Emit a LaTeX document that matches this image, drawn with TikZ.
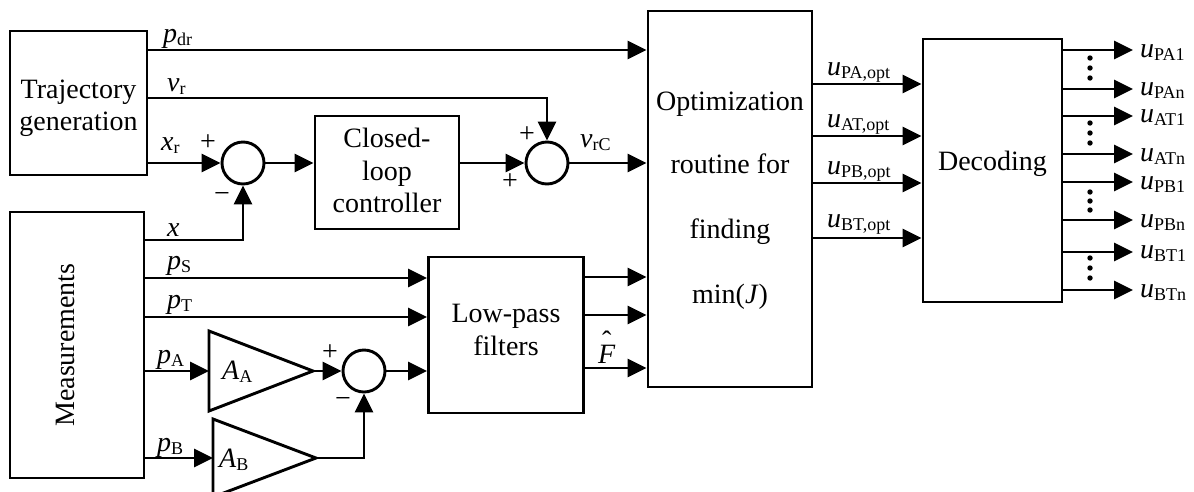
\documentclass[tikz,border=0pt]{standalone}
\usepackage{fontspec}
\setmainfont{Liberation Serif}
\usetikzlibrary{arrows.meta}
\newcommand{\vsub}[2]{\textit{#1}\raisebox{-0.14em}{\fontsize{18}{18}\selectfont #2}}
\begin{document}
\begin{tikzpicture}[x=1pt,y=-1pt,
 every node/.style={font=\fontsize{28}{33}\selectfont, inner sep=0pt},
 blk/.style={draw, line width=2.9pt},
 sumc/.style={draw, circle, line width=2.9pt, minimum size=42pt},
 sig/.style={line width=2.9pt, -{Triangle[length=19pt,width=18pt]}},
 wire/.style={line width=2.9pt, line join=miter},
 lbl/.style={anchor=base west},
 txt/.style={anchor=base},
 sgn/.style={font=\fontsize{28}{28}\selectfont}]
\useasboundingbox (0,0) rectangle (1194,491);
\clip (0,0) rectangle (1194,491);
\fill[white] (0,0) rectangle (1194,491);

% blocks
\node[blk, minimum width=137pt, minimum height=144pt] (traj) at (78.5,103) {};
\node[txt] (trajt1) at (78.5,98) {Trajectory};
\node[txt] (trajt2) at (78.5,130) {generation};

\node[blk, minimum width=134pt, minimum height=266pt] (meas) at (77,345) {};
\node[rotate=90] (meast) at (65,345) {Measurements};

\node[blk, minimum width=144pt, minimum height=113pt] (clc) at (387,172.5) {};
\node[txt] (clct1) at (387,147) {Closed-};
\node[txt] (clct2) at (387,180) {loop};
\node[txt] (clct3) at (387,212) {controller};

\node[blk, minimum width=155pt, minimum height=156pt] (lpf) at (506,335) {};
\node[txt] (lpft1) at (506,322) {Low-pass};
\node[txt] (lpft2) at (506,355) {filters};

\node[blk, minimum width=164pt, minimum height=376pt] (opt) at (730,199) {};
\node[txt] (optt1) at (730,110) {Optimization};
\node[txt] (optt2) at (730,173) {routine for};
\node[txt] (optt3) at (730,238) {finding};
\node[txt] (optt4) at (730,303) {min(\textit{J})};

\node[blk, minimum width=139pt, minimum height=263pt] (dec) at (992.5,170.5) {};
\node[txt] (dect) at (992.5,170) {Decoding};

% summing junctions
\node[sumc] (s1) at (243,163) {};
\node[sumc] (s2) at (547,163) {};
\node[sumc] (s3) at (364,371) {};

% amplifiers
\coordinate (AAin) at (209,371);
\coordinate (AAout) at (313,371);
\coordinate (ABin) at (213,458);
\coordinate (ABout) at (316,458);
\draw[wire] (209,331) -- (AAout) -- (209,411) -- cycle;
\draw[wire] (213,419) -- (ABout) -- (213,497) -- cycle;

% connectors
\draw[sig] (traj.east |- 0,50) -- (opt.west |- 0,50);
\draw[sig] (traj.east |- 0,98) -| (s2.north);
\draw[sig] (traj.east |- s1) -- (s1.west);
\draw[sig] (s1.east) -- (clc.west |- s1);
\draw[sig] (clc.east |- s2) -- (s2.west);
\draw[sig] (s2.east) -- (opt.west |- s2);
\draw[sig] (meas.east |- 0,240) -| (s1.south);
\draw[sig] (meas.east |- 0,278) -- (lpf.west |- 0,278);
\draw[sig] (meas.east |- 0,317) -- (lpf.west |- 0,317);
\draw[sig] (meas.east |- AAin) -- (AAin);
\draw[sig] (AAout) -- (s3.west);
\draw[sig] (meas.east |- ABin) -- (ABin);
\draw[sig] (ABout) -| (s3.south);
\draw[sig] (s3.east) -- (lpf.west |- s3);
\draw[sig] (lpf.east |- 0,277) -- (opt.west |- 0,277);
\draw[sig] (lpf.east |- 0,315) -- (opt.west |- 0,315);
\draw[sig] (lpf.east |- 0,368) -- (opt.west |- 0,368);
\draw[sig] (opt.east |- 0,84) -- (dec.west |- 0,84);
\draw[sig] (opt.east |- 0,136) -- (dec.west |- 0,136);
\draw[sig] (opt.east |- 0,183) -- (dec.west |- 0,183);
\draw[sig] (opt.east |- 0,238) -- (dec.west |- 0,238);

\foreach \n/\yy in {1/50,2/89,3/116,4/154,5/182,6/220,7/252,8/290}{
  \coordinate (o\n) at (1133,\yy);
  \draw[sig] (dec.east |- o\n) -- (o\n);
}
\foreach \yy in {58,68,78,123,133,143,192,201,210,258,268,278}{
  \fill (1090,\yy) circle (2.7pt);
}

% labels
\node[lbl] (lpdr) at (163,42) {\vsub{p}{dr}};
\node[lbl] (lvr) at (167,91) {\vsub{v}{r}};
\node[lbl] (lxr) at (161,150) {\vsub{x}{r}};
\node[lbl] (lx) at (167,236) {\textit{x}};
\node[lbl] (lps) at (167,269) {\vsub{p}{S}};
\node[lbl] (lpt) at (167,308) {\vsub{p}{T}};
\node[lbl] (lpa) at (157,363) {\vsub{p}{A}};
\node[lbl] (lpb) at (157,451) {\vsub{p}{B}};
\node[lbl] (laa) at (222,379) {\vsub{A}{A}};
\node[lbl] (lab) at (219,467) {\vsub{A}{B}};
\node[lbl] (lvrc) at (580,147) {\vsub{v}{rC}};
\node[lbl] (lf) at (598,363) {\makebox[0pt][l]{\hspace{4pt}\raisebox{13pt}{ˆ}}\textit{F}};
\node[lbl] (lupa) at (827,75) {\vsub{u}{PA,opt}};
\node[lbl] (luat) at (827,127) {\vsub{u}{AT,opt}};
\node[lbl] (lupb) at (827,174) {\vsub{u}{PB,opt}};
\node[lbl] (lubt) at (827,227) {\vsub{u}{BT,opt}};
\node[lbl] (lo1) at (1140,57) {\vsub{u}{PA1}};
\node[lbl] (lo2) at (1140,95) {\vsub{u}{PAn}};
\node[lbl] (lo3) at (1140,122) {\vsub{u}{AT1}};
\node[lbl] (lo4) at (1140,161) {\vsub{u}{ATn}};
\node[lbl] (lo5) at (1140,189) {\vsub{u}{PB1}};
\node[lbl] (lo6) at (1140,227) {\vsub{u}{PBn}};
\node[lbl] (lo7) at (1140,258) {\vsub{u}{BT1}};
\node[lbl] (lo8) at (1140,297) {\vsub{u}{BTn}};

% signs
\node[sgn] (s1p) at (208,143) {+};
\node[sgn] (s1m) at (222,197) {−};
\node[sgn] (s2pa) at (527,135) {+};
\node[sgn] (s2pb) at (510,182) {+};
\node[sgn] (s3p) at (330,353) {+};
\node[sgn] (s3m) at (343,402) {−};
\end{tikzpicture}
\end{document}
